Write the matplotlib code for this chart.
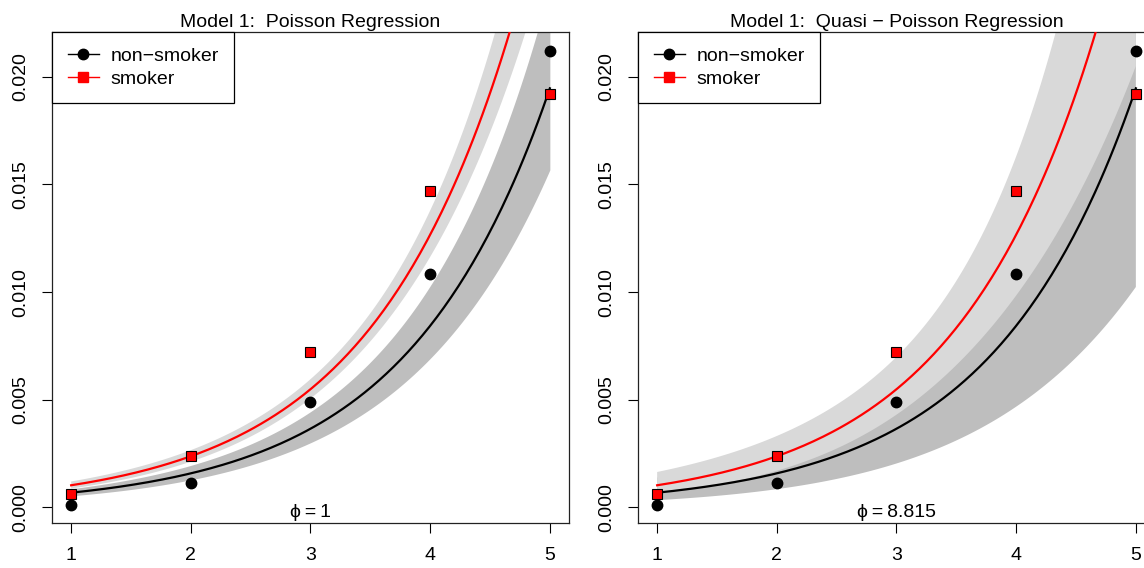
import numpy as np
import matplotlib
matplotlib.use("Agg")
import matplotlib.pyplot as plt

plt.rcParams['font.family'] = ['Liberation Sans', 'DejaVu Sans']

# Sterberaten pro Personenjahr, Altersgruppe 1..5
age_group = [1, 2, 3, 4, 5]
rate_nonsmoker = [0.00011, 0.00112, 0.0049, 0.01083, 0.0212]
rate_smoker = [0.00061, 0.0024, 0.0072, 0.0147, 0.0192]

# Modell: log(rate) = b0 + b1*age + b2*smoker
coef = [-8.118329, 0.835834, 0.40637]
cov_row0 = [1.94029902e-02, -2.83125881e-03, -9.74060742e-03]
cov_row1 = [-2.83125881e-03, 8.43614645e-04, -4.77883463e-05]
cov_row2 = [-9.74060742e-03, -4.77883463e-05, 1.14909988e-02]
panel_titles = ["Model 1:  Poisson Regression", "Model 1:  Quasi \u2212 Poisson Regression"]
panel_phi = [1.0, 8.815]
phi_labels = ["\u03d5\u2009=\u20091", "\u03d5\u2009=\u20098.815"]

cov = np.array([cov_row0, cov_row1, cov_row2])
b = np.array(coef)
FS = 14


def band(xs, smoker, phi):
    X = np.column_stack([np.ones_like(xs), xs, np.full_like(xs, smoker)])
    eta = X @ b
    se = np.sqrt(np.einsum('ij,jk,ik->i', X, cov, X) * phi)
    return np.exp(eta), np.exp(eta - 1.96 * se), np.exp(eta + 1.96 * se)


fig = plt.figure(figsize=(11.44, 5.68), dpi=100)
W, H = 1144, 568
lefts = [52, 638]
xs = np.linspace(1, 5, 200)

for i in range(2):
    ax = fig.add_axes([lefts[i] / W, 45 / H, 517 / W, 491 / H])
    phi = panel_phi[i]
    fit_n, lo_n, hi_n = band(xs, 0, phi)
    fit_s, lo_s, hi_s = band(xs, 1, phi)
    ax.fill_between(xs, lo_n, hi_n, color='#BEBEBE', lw=0, zorder=1)
    ax.fill_between(xs, lo_s, hi_s, color='#D9D9D9', lw=0, zorder=2)
    ax.plot(xs, fit_n, color='black', lw=1.6, zorder=3)
    ax.plot(xs, fit_s, color='#FF0000', lw=1.6, zorder=3)
    ax.plot(age_group, rate_nonsmoker, 'o', color='black', ms=7.5, lw=0, zorder=4)
    ax.plot(age_group, rate_smoker, 's', mfc='#FF0000', mec='black', mew=0.8, ms=6.5, lw=0, zorder=4)

    h1, = ax.plot([], [], '-o', color='black', ms=7.5, lw=1)
    h2, = ax.plot([], [], '-s', color='#FF0000', mfc='#FF0000', mec='#FF0000', ms=6.5, lw=1)
    leg = ax.legend([h1, h2], ["non\u2212smoker", "smoker"], loc='upper left', borderaxespad=0,
                    fancybox=False, edgecolor='black', framealpha=1, fontsize=FS,
                    handlelength=1.6, handletextpad=0.6, labelspacing=0.25, borderpad=0.8)
    leg.get_frame().set_linewidth(0.9)
    leg.set_zorder(10)

    ax.text(3, -0.00025, phi_labels[i], ha='center', va='center', fontsize=FS, zorder=5)

    ax.set_xlim(0.84, 5.16)
    ax.set_ylim(-0.00072, 0.02208)
    ax.set_xticks(age_group)
    ax.set_yticks([0.0, 0.005, 0.010, 0.015, 0.020])
    ax.set_yticklabels(["0.000", "0.005", "0.010", "0.015", "0.020"], rotation=90, va='center')
    ax.tick_params(axis='both', direction='out', length=7.5, width=0.8, labelsize=FS, colors='black')
    ax.tick_params(axis='x', pad=10)
    ax.tick_params(axis='y', pad=9)
    for s in ax.spines.values():
        s.set_linewidth(0.9)
        s.set_color('#222222')
    ax.set_title(panel_titles[i], fontsize=FS, pad=3.5)

fig.savefig("out.png", dpi=100)
